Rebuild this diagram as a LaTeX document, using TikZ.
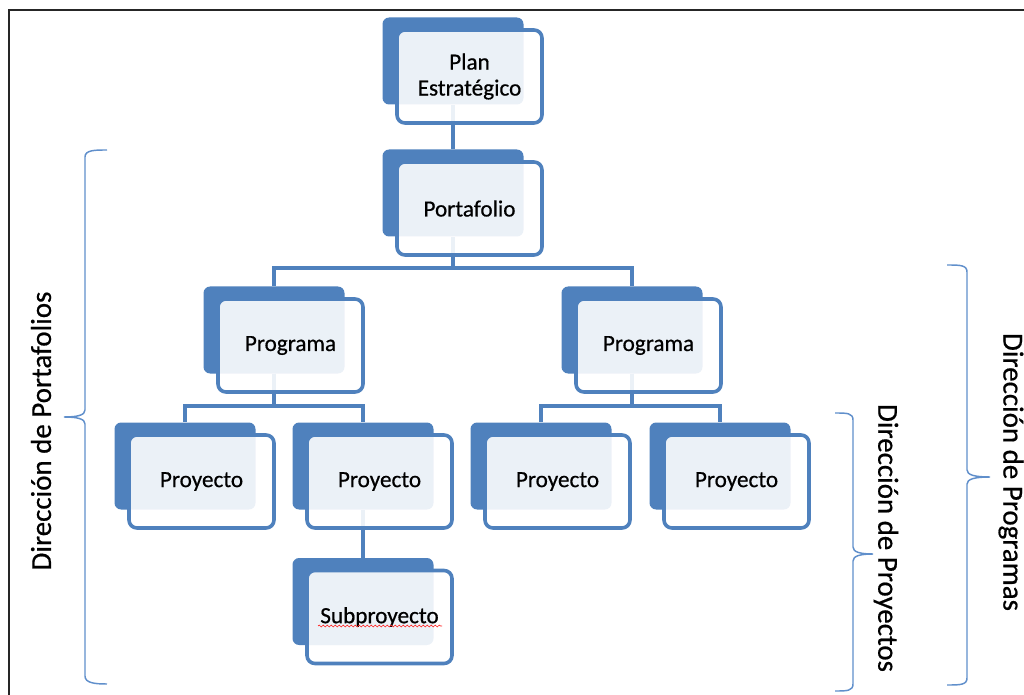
\documentclass[tikz,border=0pt]{standalone}
\usepackage{fontspec}
\setmainfont{Carlito}
\newfontfamily\heavyfont{Carlito}[FakeBold=0.6]
\usetikzlibrary{decorations.pathmorphing}
\definecolor{mblue}{RGB}{79,129,189}
\definecolor{braceblue}{RGB}{96,143,203}
\pgfdeclarelayer{background}
\pgfsetlayers{background,main}
\begin{document}
\begin{tikzpicture}[x=0.75pt,y=-0.75pt,
  backbox/.style={fill=mblue, rounded corners=5pt, minimum width=105.75pt, minimum height=65.25pt, inner sep=0pt, draw=none},
  frontbox/.style={draw=mblue, line width=2.7pt, fill=white, fill opacity=0.89, text opacity=1, rounded corners=6pt, minimum width=108.75pt, minimum height=69.75pt, inner sep=0pt, align=center, font=\heavyfont\fontsize{17.4}{19.5}\selectfont},
  link/.style={draw=mblue, line width=2.9pt},
  bracket/.style={draw=braceblue, line width=1.1pt},
  sidelabel/.style={font=\heavyfont\fontsize{21.7}{24}\selectfont, inner sep=0pt}]
\useasboundingbox (0,0) rectangle (1024,695);
% frame
\draw[line width=1.8pt, black!85] (9,705) -- (9,10) -- (1035,10);

% boxes
\node[backbox] (planB) at (453,61) {};
\node[frontbox] (plan) at (469.5,76.5) {Plan\\Estratégico};
\node[backbox] (portB) at (453,193) {};
\node[frontbox] (port) at (469.5,208.5) {Portafolio};
\node[backbox] (prog1B) at (274,330) {};
\node[frontbox] (prog1) at (290.5,345.5) {Programa};
\node[backbox] (prog2B) at (632,330) {};
\node[frontbox] (prog2) at (648.5,345.5) {Programa};
\node[backbox] (pr1B) at (185,466) {};
\node[frontbox] (pr1) at (201.5,481.5) {Proyecto};
\node[backbox] (pr2B) at (363,466) {};
\node[frontbox] (pr2) at (379.5,481.5) {Proyecto};
\node[backbox] (pr3B) at (541,466) {};
\node[frontbox] (pr3) at (557.5,481.5) {Proyecto};
\node[backbox] (pr4B) at (720,466) {};
\node[frontbox] (pr4) at (736.5,481.5) {Proyecto};
\node[backbox] (subB) at (363,601.5) {};
\node[frontbox] (sub) at (379.5,617) {Subproyecto};
\draw[red!85, line width=0.5pt, decorate, decoration={snake, amplitude=0.7pt, segment length=3pt}] (318,626) -- (442,626);

% connectors
\begin{pgfonlayer}{background}
\draw[link] (planB.south) -- (portB.north);
\draw[link] (portB.south) -- ++(0,31) -| (prog1B.north);
\draw[link] (portB.south) -- ++(0,31) -| (prog2B.north);
\draw[link] (prog1B.south) -- ++(0,32.5) -| (pr1B.north);
\draw[link] (prog1B.south) -- ++(0,32.5) -| (pr2B.north);
\draw[link] (prog2B.south) -- ++(0,32.5) -| (pr3B.north);
\draw[link] (prog2B.south) -- ++(0,32.5) -| (pr4B.north);
\draw[link] (pr2B.south) -- (subB.north);
\end{pgfonlayer}

% side labels
\node[sidelabel, rotate=90] (dport) at (41,431) {Dirección de Portafolios};
\node[sidelabel, rotate=-90] (dproy) at (886,538) {Dirección de Proyectos};
\node[sidelabel, rotate=-90] (dprog) at (1011,472) {Dirección de Programas};

% braces
\draw[bracket] (107,150) .. controls (95,150) and (85,150) .. (85,157) -- (85,410)
  .. controls (85,415) and (78,417) .. (64,417)
  .. controls (78,417) and (85,419) .. (85,424) -- (85,676)
  .. controls (85,683) and (95,684) .. (107,684);
\draw[bracket] (835,413) .. controls (847,413) and (853,413) .. (853,420) -- (853,547)
  .. controls (853,552) and (860,554) .. (873,554)
  .. controls (860,554) and (853,556) .. (853,561) -- (853,684)
  .. controls (853,691) and (847,691) .. (835,691);
\draw[bracket] (947,265) .. controls (960,265) and (967,265) .. (967,272) -- (967,470)
  .. controls (967,475) and (975,477) .. (990,477)
  .. controls (975,477) and (967,479) .. (967,484) -- (967,678)
  .. controls (967,685) and (960,685) .. (947,685);
\end{tikzpicture}
\end{document}
